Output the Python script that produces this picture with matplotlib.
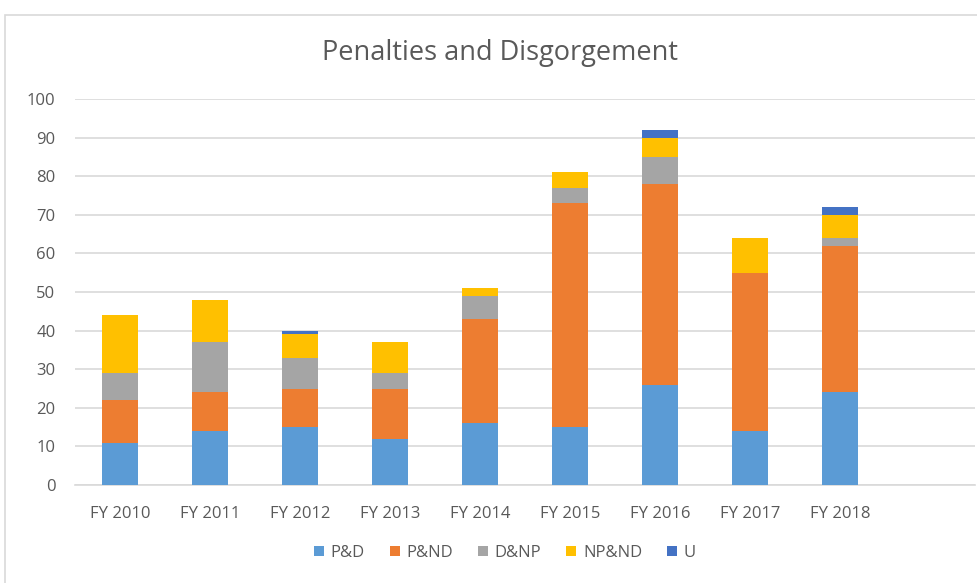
import matplotlib
matplotlib.use("Agg")
import matplotlib.pyplot as plt
from matplotlib.patches import Rectangle
import numpy as np

categories = ["FY 2010", "FY 2011", "FY 2012", "FY 2013", "FY 2014",
              "FY 2015", "FY 2016", "FY 2017", "FY 2018"]
series_names = ["P&D", "P&ND", "D&NP", "NP&ND", "U"]
pd_vals   = [11, 14, 15, 12, 16, 15, 26, 14, 24]
pnd_vals  = [11, 10, 10, 13, 27, 58, 52, 41, 38]
dnp_vals  = [7, 13, 8, 4, 6, 4, 7, 0, 2]
npnd_vals = [15, 11, 6, 8, 2, 4, 5, 9, 6]
u_vals    = [0, 0, 1, 0, 0, 0, 2, 0, 2]
colors = ["#5B9BD5", "#ED7D31", "#A5A5A5", "#FFC000", "#4472C4"]

plt.rcParams['font.family'] = ['Open Sans', 'DejaVu Sans']
fig = plt.figure(figsize=(9.77, 5.83), dpi=100)
fig.patches.append(Rectangle((5/977, -0.1), 1.1, 1 - 15/583 + 0.1,
                             transform=fig.transFigure, fill=False,
                             edgecolor="#D9D9D9", linewidth=1.2))
ax = fig.add_axes([75/977, 1 - 485/583, 900/977, (485 - 99)/583])

x = np.arange(len(categories))
bottom = np.zeros(len(categories))
for name, vals, c in zip(series_names, [pd_vals, pnd_vals, dnp_vals, npnd_vals, u_vals], colors):
    v = np.array(vals, dtype=float)
    ax.bar(x, v, 0.4, bottom=bottom, color=c, label=name, zorder=3)
    bottom += v

ax.set_xlim(-0.5, 9.5)
ax.set_ylim(0, 100)
ax.set_yticks(range(0, 101, 10))
ax.set_xticks(x)
ax.set_xticklabels(categories)
ax.grid(axis='y', color="#D9D9D9", linewidth=1.2, zorder=0)
for s in ["top", "right", "left"]:
    ax.spines[s].set_visible(False)
ax.spines["bottom"].set_color("#D9D9D9")
ax.spines["bottom"].set_linewidth(1.2)
ax.tick_params(axis='both', length=0, colors="#595959", labelsize=12)
ax.tick_params(axis='y', pad=14)
ax.tick_params(axis='x', pad=15)

fig.text(0.512, 1 - 53/583, "Penalties and Disgorgement", ha='center', va='center',
         fontsize=19.5, color="#595959")
ax.legend(loc='center', bbox_to_anchor=(505/977, 1 - 553/583), bbox_transform=fig.transFigure,
          ncol=5, frameon=False, fontsize=12, handlelength=0.6, handleheight=0.6,
          columnspacing=1.5, handletextpad=0.4, labelcolor="#595959")
fig.savefig("out.png", dpi=100)
